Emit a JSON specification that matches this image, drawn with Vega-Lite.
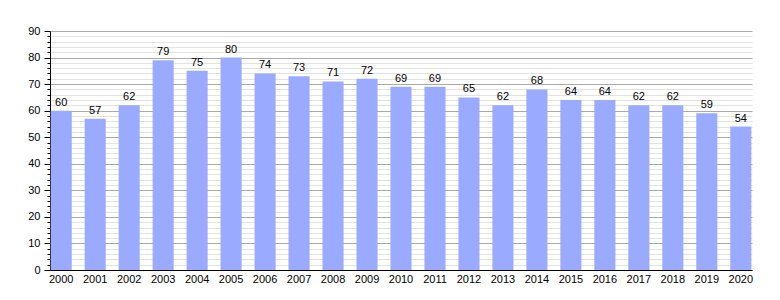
{
  "$schema": "https://vega.github.io/schema/vega-lite/v6.json",
  "autosize": "none",
  "width": 702,
  "height": 239,
  "padding": {"left": 50, "top": 31, "right": 28, "bottom": 30},
  "background": "white",
  "config": {
    "view": {"stroke": null},
    "font": "Liberation Sans",
    "axis": {"labelFont": "Liberation Sans", "labelFontSize": 11, "labelColor": "#000"}
  },
  "data": {"values": [
    {"year": "2000", "v": 60}, {"year": "2001", "v": 57}, {"year": "2002", "v": 62},
    {"year": "2003", "v": 79}, {"year": "2004", "v": 75}, {"year": "2005", "v": 80},
    {"year": "2006", "v": 74}, {"year": "2007", "v": 73}, {"year": "2008", "v": 71},
    {"year": "2009", "v": 72}, {"year": "2010", "v": 69}, {"year": "2011", "v": 69},
    {"year": "2012", "v": 65}, {"year": "2013", "v": 62}, {"year": "2014", "v": 68},
    {"year": "2015", "v": 64}, {"year": "2016", "v": 64}, {"year": "2017", "v": 62},
    {"year": "2018", "v": 62}, {"year": "2019", "v": 59}, {"year": "2020", "v": 54}
  ]},
  "encoding": {
    "x": {
      "field": "year", "type": "ordinal",
      "scale": {"paddingInner": 0.38, "paddingOuter": 0.02},
      "axis": {"title": null, "labelAngle": 0, "ticks": false, "domainColor": "#000", "labelPadding": 3, "grid": false}
    }
  },
  "layer": [
    {
      "mark": {"type": "bar", "opacity": 0},
      "encoding": {
        "y": {
          "field": "v", "type": "quantitative",
          "scale": {"domain": [0, 90], "nice": false},
          "axis": {"orient": "left", "title": null, "labels": false, "domain": false,
                   "values": [2,4,6,8,12,14,16,18,22,24,26,28,32,34,36,38,42,44,46,48,52,54,56,58,62,64,66,68,72,74,76,78,82,84,86,88],
                   "grid": true, "gridColor": "#e2e2e2", "tickSize": 3, "tickColor": "#000", "zindex": 0}
        }
      }
    },
    {
      "mark": {"type": "bar", "color": "#99aaff"},
      "encoding": {
        "y": {
          "field": "v", "type": "quantitative",
          "scale": {"domain": [0, 90], "nice": false},
          "axis": {"orient": "left", "title": null, "values": [0,10,20,30,40,50,60,70,80,90],
                   "grid": true, "gridColor": "#aaaaaa", "tickSize": 6, "tickColor": "#000",
                   "domainColor": "#000", "labelPadding": 4, "zindex": 0}
        }
      }
    },
    {
      "mark": {"type": "text", "baseline": "bottom", "dy": -3, "fontSize": 11, "font": "Liberation Sans", "color": "#000"},
      "encoding": {
        "y": {"field": "v", "type": "quantitative", "axis": null},
        "text": {"field": "v", "type": "quantitative"}
      }
    }
  ],
  "resolve": {"axis": {"y": "independent"}}
}
